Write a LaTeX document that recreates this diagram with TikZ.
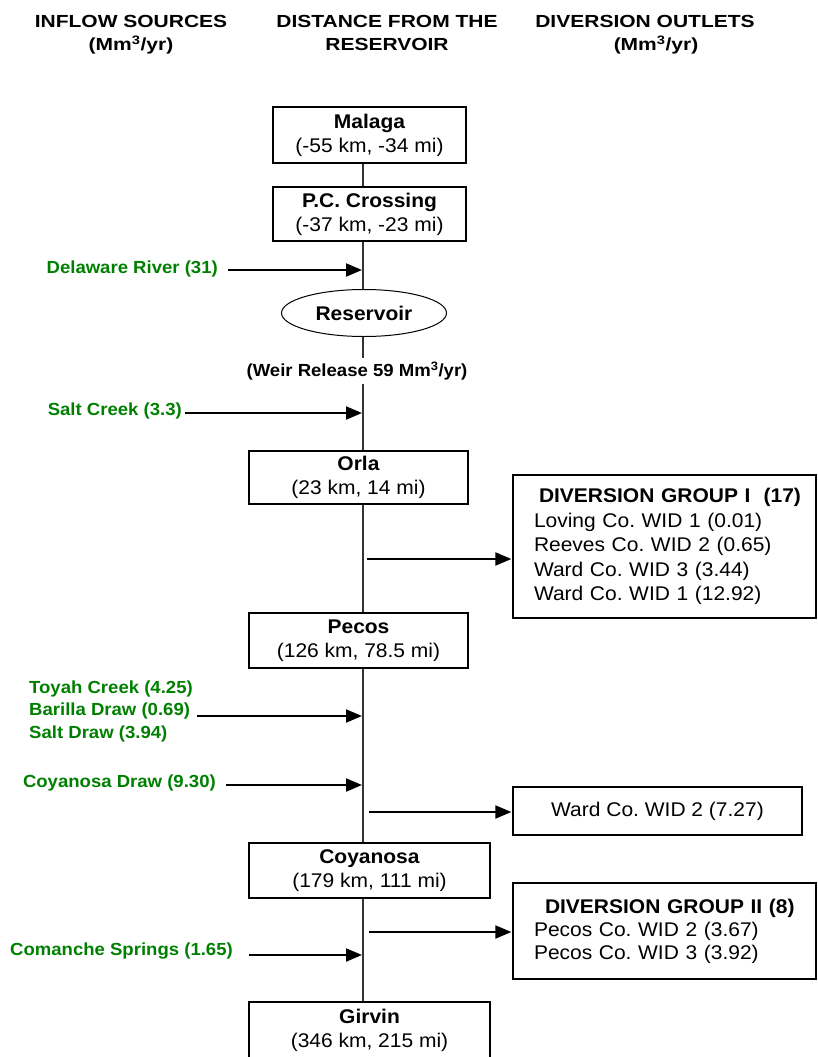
\documentclass[tikz,border=0pt]{standalone}
\usepackage{fontspec}
\setmainfont{Liberation Sans}[FakeStretch=1.06]
\newfontfamily\headfont{Liberation Sans}[FakeStretch=1.2]
\usetikzlibrary{positioning, shapes.geometric, arrows.meta}
\definecolor{InflowGreen}{RGB}{0, 128, 0}
\frenchspacing

\begin{document}
\begin{tikzpicture}[x=1pt, y=-1pt,
    station/.style={draw, line width=2pt, inner sep=0pt, align=center, font=\fontsize{19.8}{24}\selectfont},
    outlet/.style={draw, line width=1.3pt, inner sep=0pt, font=\fontsize{19.8}{24.5}\selectfont},
    inflow/.style={text=InflowGreen, inner sep=0pt, font=\bfseries\fontsize{17.5}{22.5}\selectfont},
    heading/.style={inner sep=0pt, align=center, font=\headfont\bfseries\fontsize{17.5}{23}\selectfont},
    flow/.style={line width=2pt, shorten >=1pt, -{Triangle[length=16pt, width=13pt]}},
    trunk/.style={line width=1.1pt, black!80}]
    \useasboundingbox (0,0) rectangle (817,1057);

    % Column headings
    \node[heading, anchor=north] (hin) at (131,15) {INFLOW SOURCES\\(Mm\textsuperscript{3}/yr)};
    \node[heading, anchor=north] (hdist) at (387,15) {DISTANCE FROM THE\\RESERVOIR};
    \node[heading, anchor=north] (hout) at (645,15) {DIVERSION OUTLETS\\\hspace*{22pt}(Mm\textsuperscript{3}/yr)};

    % Stations along the river
    \coordinate (t) at (363,0);
    \node[station, minimum width=193pt, minimum height=56pt] (malaga) at (369.5,135) {\textbf{Malaga}\\(-55 km, -34 mi)};
    \node[station, minimum width=193pt, minimum height=54pt] (pc) at (369.5,214) {\textbf{P.C. Crossing}\\(-37 km, -23 mi)};
    \node[ellipse, draw, line width=1pt, inner sep=0pt, minimum width=165pt, minimum height=47pt,
          font=\bfseries\fontsize{19.8}{24}\selectfont] (res) at (364,313) {Reservoir};
    \node[inner sep=0pt, minimum height=25pt, font=\bfseries\fontsize{17.5}{22}\selectfont] (weir) at (357,371)
        {(Weir Release 59 Mm\textsuperscript{3}/yr)};
    \node[station, minimum width=219pt, minimum height=53pt] (orla) at (358.5,477.5) {\textbf{Orla}\\(23 km, 14 mi)};
    \node[station, minimum width=219pt, minimum height=55pt] (pecos) at (358.5,640.5) {\textbf{Pecos}\\(126 km, 78.5 mi)};
    \node[station, minimum width=241pt, minimum height=55pt] (coy) at (369.5,870.5) {\textbf{Coyanosa}\\(179 km, 111 mi)};
    \node[station, minimum width=241pt, minimum height=56pt] (girvin) at (369.5,1030) {\textbf{Girvin}\\(346 km, 215 mi)};

    \foreach \a/\b in {malaga/pc, pc/res, res/weir, weir/orla, orla/pecos, pecos/coy, coy/girvin}
        \draw[trunk] (\a.south -| t) -- (\b.north -| t);

    % Inflow sources
    \node[inflow, anchor=east] (dela) at (218,268.5) {Delaware River (31)};
    \node[inflow, anchor=east] (saltc) at (182,411) {Salt Creek (3.3)};
    \node[inflow, anchor=west, align=left] (toyah) at (29,711) {Toyah Creek (4.25)\\Barilla Draw (0.69)\\Salt Draw (3.94)};
    \node[inflow, anchor=east] (coyd) at (216,783) {Coyanosa Draw (9.30)};
    \node[inflow, anchor=east] (coman) at (233,951) {Comanche Springs (1.65)};

    \coordinate (iDela) at ([shift={(10,1.5)}]dela.east);
    \coordinate (iSalt) at ([shift={(3,2)}]saltc.east);
    \coordinate (iToyah) at ([shift={(4,5)}]toyah.east);
    \coordinate (iCoyd) at ([shift={(10,2)}]coyd.east);
    \coordinate (iComan) at ([shift={(16,4)}]coman.east);
    \foreach \s in {iDela, iSalt, iToyah, iCoyd, iComan}
        \draw[flow] (\s) -- (\s -| t);

    % Diversion outlets
    \node[outlet, minimum width=303pt, minimum height=143pt, text width=261pt, align=left] (grpA) at (664.5,546.5)
        {\mbox{\bfseries\hspace*{5pt}DIVERSION GROUP I\ \ (17)}\\Loving Co. WID 1 (0.01)\\Reeves Co. WID 2 (0.65)\\Ward Co. WID 3 (3.44)\\Ward Co. WID 1 (12.92)};
    \node[outlet, minimum width=289pt, minimum height=48pt] (ward) at (657.5,811) {Ward Co. WID 2 (7.27)};
    \node[outlet, minimum width=303pt, minimum height=96pt, text width=261pt, align=left,
          font=\fontsize{19.8}{23}\selectfont] (grpB) at (664.5,931)
        {\mbox{\bfseries\hspace*{11pt}DIVERSION GROUP II (8)}\\Pecos Co. WID 2 (3.67)\\Pecos Co. WID 3 (3.92)};

    \coordinate (oA) at (367,559);
    \coordinate (oW) at (369,812);
    \coordinate (oB) at (369,932);
    \draw[flow] (oA) -- (oA -| grpA.west);
    \draw[flow] (oW) -- (oW -| ward.west);
    \draw[flow] (oB) -- (oB -| grpB.west);
\end{tikzpicture}
\end{document}
